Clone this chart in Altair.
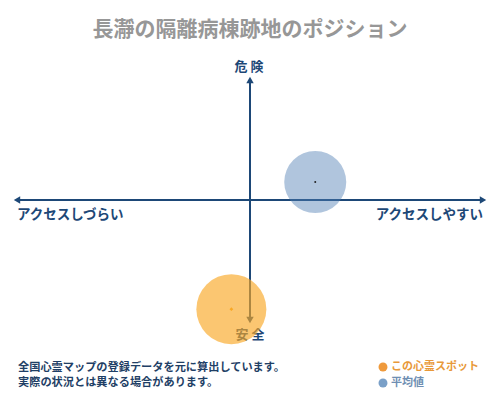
import altair as alt
import pandas as pd

# ---- data ----
title_text = "長瀞の隔離病棟跡地のポジション"
series_names = ["この心霊スポット", "平均値"]
access_vals = [-0.08, 0.28]      # x: アクセスしづらい(-) .. アクセスしやすい(+)
danger_vals = [-0.91, 0.15]      # y: 安全(-) .. 危険(+)
axis_top, axis_bottom = "危 険", "安 全"
axis_left, axis_right = "アクセスしづらい", "アクセスしやすい"
note_lines = ["全国心霊マップの登録データを元に算出しています。", "実際の状況とは異なる場合があります。"]

FONT = "Noto Sans CJK JP"
NAVY = "#1d4877"
ORANGE = "#f9a825"
BLUE = "#4f7fb3"

xs = alt.Scale(domain=[-1, 1], range=[9, 475])
ys = alt.Scale(domain=[-1, 1], range=[312, 72])

pts = pd.DataFrame({"name": series_names, "x": access_vals, "y": danger_vals})

hline = alt.Chart(pd.DataFrame({"x": [-1], "x2": [1], "y": [0]})).mark_rule(
    color=NAVY, strokeWidth=2).encode(
    x=alt.X("x:Q", scale=xs, axis=None), x2="x2:Q", y=alt.Y("y:Q", scale=ys, axis=None))
vline = alt.Chart(pd.DataFrame({"y": [-1], "y2": [1], "x": [0]})).mark_rule(
    color=NAVY, strokeWidth=2).encode(
    x=alt.X("x:Q", scale=xs, axis=None), y=alt.Y("y:Q", scale=ys, axis=None), y2="y2:Q")

heads = alt.Chart(pd.DataFrame({
    "x": [-1, 1, 0, 0], "y": [0, 0, 1, -1],
    "shape": ["triangle-left", "triangle-right", "triangle-up", "triangle-down"]})).mark_point(
    filled=True, opacity=1, color=NAVY, size=55).encode(
    x=alt.X("x:Q", scale=xs, axis=None), y=alt.Y("y:Q", scale=ys, axis=None),
    shape=alt.Shape("shape:N", scale=None))

def txt(s, x, y, size, color, align="center", weight="bold"):
    return alt.Chart(pd.DataFrame({"t": [s]})).mark_text(
        font=FONT, fontSize=size, fontWeight=weight, color=color, align=align,
        baseline="middle").encode(x=alt.value(x), y=alt.value(y), text="t:N")

labels = [
    txt(title_text, 242, 22, 21, "#979797"),
    txt(axis_top, 241, 59, 13, NAVY),
    txt(axis_bottom, 242, 327, 13, NAVY),
    txt(axis_left, 9, 207, 13.5, NAVY, "left"),
    txt(axis_right, 475, 207, 13.5, NAVY, "right"),
    txt(note_lines[0], 10, 360, 11.2, "#1f3f66", "left"),
    txt(note_lines[1], 10, 375, 11.2, "#1f3f66", "left"),
    txt(series_names[0], 383, 359, 11, "#e8993a", "left"),
    txt(series_names[1], 383, 375, 11, "#6f8fb3", "left"),
]

color_scale = alt.Scale(domain=series_names, range=[ORANGE, BLUE])

bubbles = alt.Chart(pts).mark_circle().encode(
    x=alt.X("x:Q", scale=xs, axis=None), y=alt.Y("y:Q", scale=ys, axis=None),
    color=alt.Color("name:N", scale=color_scale, legend=None),
    size=alt.Size("name:N", scale=alt.Scale(domain=series_names, range=[4900, 3844]), legend=None),
    opacity=alt.Opacity("name:N", scale=alt.Scale(domain=series_names, range=[0.65, 0.45]), legend=None))

centers = alt.Chart(pts).mark_point(filled=True, opacity=1).encode(
    x=alt.X("x:Q", scale=xs, axis=None), y=alt.Y("y:Q", scale=ys, axis=None),
    color=alt.Color("name:N", scale=alt.Scale(domain=series_names, range=[ORANGE, "#222222"]), legend=None),
    shape=alt.Shape("name:N", scale=alt.Scale(domain=series_names, range=["diamond", "circle"]), legend=None),
    size=alt.Size("name:N", scale=alt.Scale(domain=series_names, range=[14, 4]), legend=None))

legend_dots = alt.Chart(pts).mark_circle(opacity=1, size=80).encode(
    x=alt.value(375),
    y=alt.Y("name:N", scale=alt.Scale(domain=series_names, range=[359, 375], padding=0), axis=None),
    color=alt.Color("name:N", scale=alt.Scale(domain=series_names, range=["#ef9a3c", "#7aa0c8"]), legend=None))

chart = alt.layer(hline, vline, heads, *labels, bubbles, centers, legend_dots).resolve_scale(
    color="independent", size="independent", shape="independent", opacity="independent", y="independent"
).properties(
    width=484, height=384, autosize=alt.AutoSizeParams(type="none"), padding=0
).configure_view(stroke=None)

chart.save("out.html", embed_options={"renderer": "svg", "actions": False})
